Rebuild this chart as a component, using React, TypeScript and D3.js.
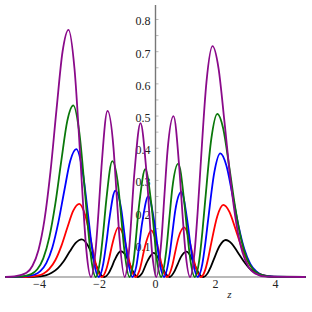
import React from 'react';
import * as d3 from 'd3';

// values (x, y pairs per curve)
const blackX = [-4.26,-3.86,-3.66,-3.46,-3.26,-3.06,-2.86,-2.66,-2.46,-2.26,-2.06,-1.96,-1.86,-1.71,-1.56,-1.46,-1.36,-1.16,-0.96,-0.86,-0.76,-0.585,-0.46,-0.26,-0.06,0.14,0.34,0.465,0.64,0.74,0.84,1.04,1.24,1.34,1.44,1.59,1.74,1.84,1.94,2.14,2.34,2.54,2.74,2.94,3.14,3.34,3.54,3.74,4.14];
const blackY = [0,0.002,0.005,0.013,0.027,0.049,0.079,0.106,0.117,0.099,0.055,0.032,0.012,0,0.012,0.031,0.053,0.080,0.062,0.041,0.019,0,0.010,0.051,0.075,0.051,0.010,0,0.019,0.040,0.061,0.079,0.052,0.031,0.012,0,0.012,0.031,0.054,0.097,0.115,0.104,0.077,0.049,0.026,0.012,0.005,0.002,0];

const redX = [-4.34,-3.94,-3.74,-3.54,-3.34,-3.14,-2.94,-2.74,-2.54,-2.34,-2.14,-2.04,-1.94,-1.79,-1.64,-1.54,-1.44,-1.24,-1.04,-0.94,-0.84,-0.665,-0.54,-0.34,-0.14,0.06,0.26,0.385,0.56,0.66,0.76,0.96,1.16,1.26,1.36,1.51,1.66,1.76,1.86,2.06,2.26,2.46,2.66,2.86,3.06,3.26,3.46,3.66,4.06];
const redY = [0,0.004,0.010,0.025,0.052,0.096,0.153,0.206,0.227,0.191,0.107,0.061,0.024,0,0.024,0.060,0.102,0.154,0.120,0.079,0.036,0,0.019,0.099,0.145,0.099,0.019,0,0.036,0.079,0.120,0.154,0.102,0.060,0.024,0,0.023,0.060,0.106,0.189,0.224,0.203,0.151,0.095,0.051,0.024,0.010,0.004,0];

const blueX = [-4.44,-4.04,-3.84,-3.64,-3.44,-3.24,-3.04,-2.84,-2.64,-2.44,-2.24,-2.14,-2.04,-1.89,-1.74,-1.64,-1.54,-1.34,-1.14,-1.04,-0.94,-0.765,-0.64,-0.44,-0.24,-0.04,0.16,0.285,0.46,0.56,0.66,0.86,1.06,1.16,1.26,1.41,1.56,1.66,1.76,1.96,2.16,2.36,2.56,2.76,2.96,3.16,3.36,3.56,3.96];
const blueY = [0.001,0.007,0.018,0.043,0.091,0.169,0.268,0.361,0.397,0.334,0.187,0.107,0.041,0,0.042,0.105,0.178,0.268,0.209,0.137,0.063,0,0.033,0.171,0.251,0.171,0.033,0,0.063,0.135,0.207,0.264,0.175,0.103,0.041,0,0.040,0.104,0.182,0.325,0.384,0.347,0.258,0.162,0.087,0.041,0.017,0.006,0.001];

const greenX = [-4.54,-4.14,-3.94,-3.74,-3.54,-3.34,-3.14,-2.94,-2.74,-2.54,-2.34,-2.24,-2.14,-1.99,-1.84,-1.74,-1.64,-1.44,-1.24,-1.14,-1.04,-0.865,-0.74,-0.54,-0.34,-0.14,0.06,0.185,0.36,0.46,0.56,0.76,0.96,1.06,1.16,1.31,1.46,1.56,1.66,1.86,2.06,2.26,2.46,2.66,2.86,3.06,3.26,3.46,3.86];
const greenY = [0.001,0.009,0.024,0.058,0.123,0.227,0.361,0.485,0.533,0.449,0.251,0.143,0.055,0,0.056,0.141,0.239,0.360,0.280,0.183,0.085,0,0.044,0.229,0.335,0.228,0.044,0,0.083,0.180,0.275,0.352,0.232,0.137,0.054,0,0.053,0.138,0.241,0.429,0.507,0.460,0.341,0.214,0.115,0.054,0.023,0.009,0.001];

const purpleX = [-4.7,-4.3,-4.1,-3.9,-3.7,-3.5,-3.3,-3.1,-2.9,-2.7,-2.5,-2.4,-2.3,-2.15,-2.0,-1.9,-1.8,-1.6,-1.4,-1.3,-1.2,-1.025,-0.9,-0.7,-0.5,-0.3,-0.1,0.025,0.2,0.3,0.4,0.6,0.8,0.9,1.0,1.15,1.3,1.4,1.5,1.7,1.9,2.1,2.3,2.5,2.7,2.9,3.1,3.3,3.7];
const purpleY = [0.002,0.013,0.035,0.084,0.178,0.328,0.520,0.699,0.768,0.647,0.361,0.206,0.079,0,0.080,0.202,0.342,0.516,0.401,0.262,0.121,0,0.064,0.327,0.478,0.325,0.063,0,0.118,0.257,0.391,0.500,0.330,0.195,0.077,0,0.075,0.195,0.341,0.607,0.717,0.649,0.481,0.301,0.163,0.076,0.032,0.012,0.001];

const xTicks = [-4, -2, 0, 2, 4];
const yTicks = [0.1, 0.2, 0.3, 0.4, 0.5, 0.6, 0.7, 0.8];

const series = [
  { name: 'black', color: '#000000', xs: blackX, ys: blackY },
  { name: 'red', color: '#ff0000', xs: redX, ys: redY },
  { name: 'blue', color: '#0000ff', xs: blueX, ys: blueY },
  { name: 'green', color: '#0a780a', xs: greenX, ys: greenY },
  { name: 'purple', color: '#8a0a8a', xs: purpleX, ys: purpleY },
];

export default function App() {
  const width = 312, height = 312;
  const x = d3.scaleLinear().domain([-5, 5]).range([5.5, 305.5]);
  const y = d3.scaleLinear().domain([0, 0.845]).range([277, 5]);

  const line = d3.line<[number, number]>()
    .x(d => x(d[0]))
    .y(d => y(d[1]))
    .curve(d3.curveMonotoneX);

  const fmt = (v: number) => (v < 0 ? '\u2212' + Math.abs(v) : String(v));
  const font = "'Times New Roman', 'Liberation Serif', 'DejaVu Serif', serif";
  const minorY = d3.range(0.05, 0.85, 0.05);

  return (
    <svg width={width} height={height} style={{ position: 'absolute', left: 0, top: 0, background: '#fff' }}>
      <g style={{ fontFamily: font }} fill="#222">
        {yTicks.map(t => (
          <text key={t} x={x(0) - 5} y={y(t) + 6} textAnchor="end" fontSize={12}>
            {t.toFixed(1)}
          </text>
        ))}
        {xTicks.map(t => (
          <text key={t} x={x(t) + (t < 0 ? 4 : 0)} y={287.5} textAnchor="middle" fontSize={12}>
            {fmt(t)}
          </text>
        ))}
        <text x={x(2.5) - 1} y={298} textAnchor="middle" fontSize={11} fontStyle="italic">z</text>
      </g>

      {/* axes */}
      {minorY.map(t => (
        <line key={'my' + t} x1={x(0)} x2={x(0) + 3} y1={y(t)} y2={y(t)} stroke="#aaa" strokeWidth={0.8} />
      ))}
      <line x1={6} x2={306} y1={277} y2={277} stroke="#777" strokeWidth={1.2} />
      <line x1={x(0)} x2={x(0)} y1={5} y2={277} stroke="#777" strokeWidth={1.4} />

      {series.map(s => {
        const pts: [number, number][] = [[-5, 0], ...s.xs.map((v, i) => [v, s.ys[i]] as [number, number]), [5, 0]];
        return <path key={s.name} d={line(pts) || ''} fill="none" stroke={s.color} strokeWidth={1.8} strokeLinejoin="round" />;
      })}
    </svg>
  );
}
